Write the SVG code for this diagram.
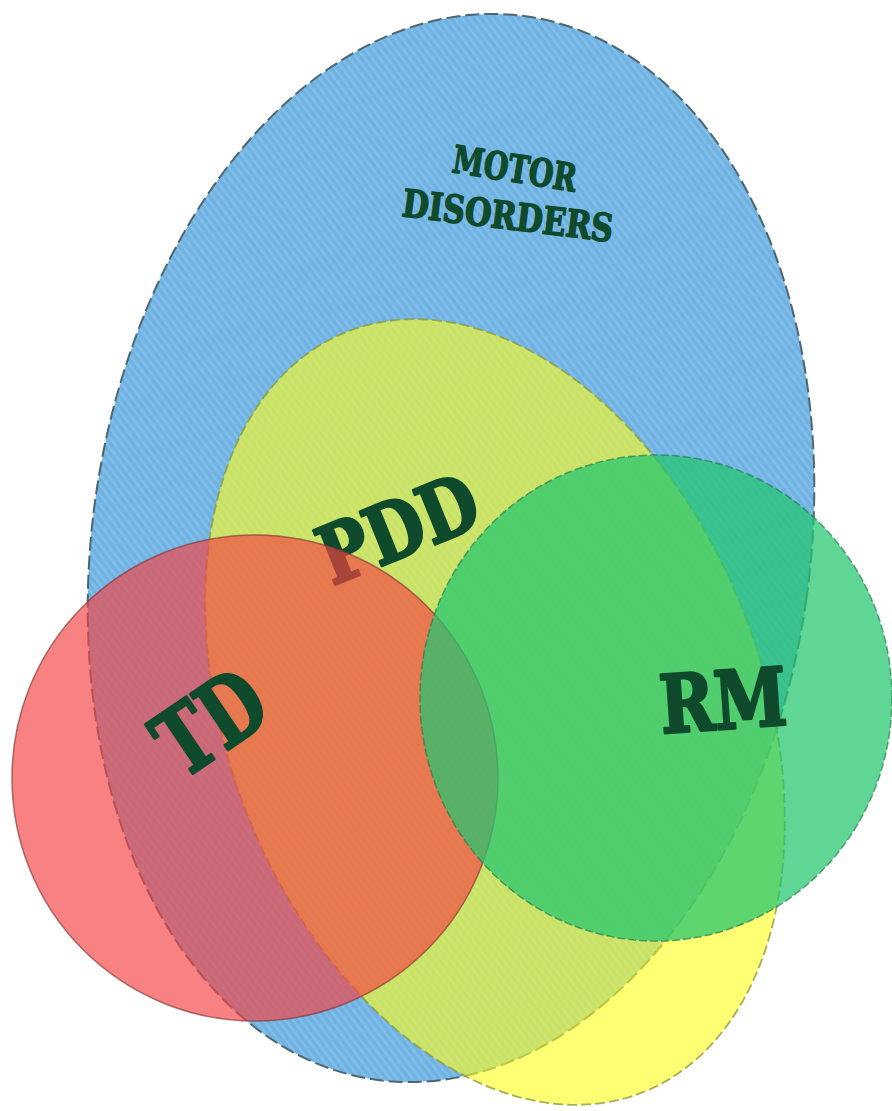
<svg xmlns="http://www.w3.org/2000/svg" width="892" height="1111" viewBox="0 0 892 1111">
<style>
.lbl{font-family:"DejaVu Serif","Liberation Serif",serif;font-weight:bold;fill:#0f4a2c;stroke:#0f4a2c;stroke-linejoin:round;text-anchor:middle}
</style>
<defs>
<pattern id="stripes" width="6" height="6" patternUnits="userSpaceOnUse" patternTransform="rotate(-45)">
<rect width="6" height="6" fill="#6fb2e2"/>
<rect width="2.5" height="6" fill="#80bde8"/>
</pattern>
</defs>
<rect width="892" height="1111" fill="#ffffff"/>
<g id="motor-disorders">
<ellipse cx="451" cy="548" rx="359" ry="537" transform="rotate(8 451 548)" fill="url(#stripes)" stroke="#4d6670" stroke-width="2" stroke-dasharray="14 5"/>
<text class="lbl" font-size="38" stroke-width="1.6" textLength="125" lengthAdjust="spacingAndGlyphs" transform="translate(515,168) rotate(9)" x="0" y="14">MOTOR</text>
<text class="lbl" font-size="38" stroke-width="1.6" textLength="212" lengthAdjust="spacingAndGlyphs" transform="translate(508,215) rotate(7)" x="0" y="14">DISORDERS</text>
</g>
<g id="pdd">
<ellipse cx="495" cy="712" rx="268" ry="408" transform="rotate(-21 495 712)" fill="#ffff1e" fill-opacity="0.62" stroke="#8e9a3a" stroke-opacity="0.8" stroke-width="1.8" stroke-dasharray="10 4"/>
<text class="lbl" font-size="80" stroke-width="3" textLength="165" lengthAdjust="spacingAndGlyphs" transform="translate(398,528) rotate(-22)" x="0" y="29">PDD</text>
</g>
<g id="td">
<circle cx="255" cy="778" r="243" fill="#f44444" fill-opacity="0.667" stroke="#8a3a3a" stroke-opacity="0.7" stroke-width="1.5"/>
<text class="lbl" font-size="92" stroke-width="3" textLength="112" lengthAdjust="spacingAndGlyphs" transform="translate(210,722) rotate(-34)" x="0" y="33">TD</text>
</g>
<g id="rm">
<ellipse cx="656" cy="698" rx="236" ry="243" fill="#24c56f" fill-opacity="0.73" stroke="#2a7a50" stroke-opacity="0.7" stroke-width="1.5" stroke-dasharray="8 3"/>
<text class="lbl" font-size="80" stroke-width="3" textLength="127" lengthAdjust="spacingAndGlyphs" transform="translate(723,700) rotate(-4)" x="0" y="29">RM</text>
</g>
<g id="connectors"/>
</svg>
